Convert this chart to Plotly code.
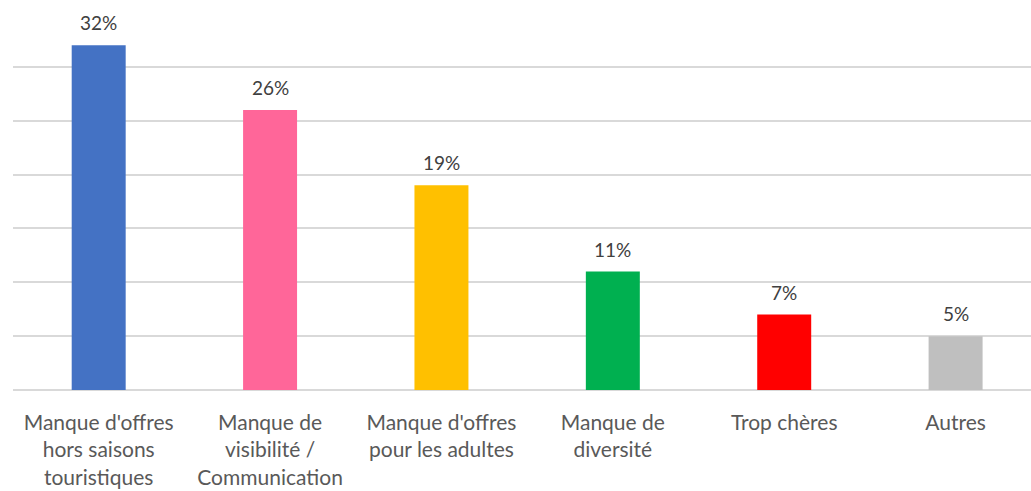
import plotly.graph_objects as go

# Survey answers: perceived weaknesses of the local offer
categories = [
    "Manque d'offres<br>hors saisons<br>touristiques",
    "Manque de<br>visibilité /<br>Communication",
    "Manque d'offres<br>pour les adultes",
    "Manque de<br>diversité",
    "Trop chères",
    "Autres",
]
values = [32, 26, 19, 11, 7, 5]
labels = [f"{v}%" for v in values]
colors = ["#4472C4", "#FF6699", "#FFC000", "#00B050", "#FF0000", "#BFBFBF"]

fig = go.Figure(
    go.Bar(
        x=categories,
        y=values,
        marker=dict(color=colors, line=dict(width=0)),
        width=0.315,
        hovertemplate="%{y}%<extra></extra>",
    )
)

# Value labels sitting above each bar
for cat, val, lab in zip(categories, values, labels):
    fig.add_annotation(
        x=cat,
        y=val,
        text=lab,
        showarrow=False,
        yanchor="bottom",
        yshift=9,
        font=dict(family="Lato", size=19, color="#404040"),
    )

fig.update_layout(
    width=1031,
    height=491,
    margin=dict(l=13, r=0, t=13, b=101),
    plot_bgcolor="white",
    paper_bgcolor="white",
    showlegend=False,
    font=dict(family="Lato", color="#595959"),
)

fig.update_xaxes(
    range=[-0.5, 5.44],
    showgrid=False,
    showline=False,
    ticks="",
    tickfont=dict(family="Lato", size=21, color="#595959"),
    ticklabelstandoff=18,
    tickangle=0,
)

fig.update_yaxes(
    range=[0, 35],
    dtick=5,
    showticklabels=False,
    showgrid=True,
    gridcolor="#D9D9D9",
    gridwidth=1.5,
    zeroline=True,
    zerolinecolor="#D9D9D9",
    zerolinewidth=1.5,
    showline=False,
    ticks="",
)

fig.write_html("out.html")
